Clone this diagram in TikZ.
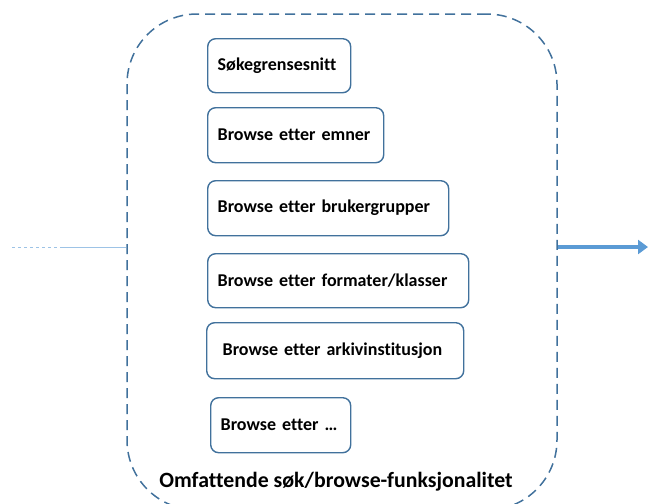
\documentclass[tikz,border=0pt]{standalone}
\usepackage{fontspec}
\setmainfont[Ligatures=NoCommon]{Carlito}
\usetikzlibrary{arrows.meta}
\definecolor{boxblue}{HTML}{41719C}
\definecolor{arrowblue}{HTML}{5B9BD5}
\definecolor{lineblue}{HTML}{9DC3E6}
\begin{document}
\begin{tikzpicture}[x=1pt,y=-1pt,
  outerbox/.style={draw=boxblue, line width=1.5pt, dash pattern=on 10pt off 6pt, rounded corners=70pt, minimum width=430pt, minimum height=496pt, inner sep=0pt},
  itembox/.style={draw=boxblue, line width=1.4pt, rounded corners=8pt, inner ysep=0pt, align=left, font=\bfseries\fontsize{18}{21}\selectfont, anchor=north west},
  title/.style={font=\bfseries\fontsize{21.8}{26}\selectfont, inner sep=0pt}
]
\clip (0,0) rectangle (649,504);
\useasboundingbox (0,0) rectangle (649,504);
\node[outerbox] (outer) at (342,262) {};
\node[itembox, inner xsep=10pt, text width=123pt, minimum height=54pt] (b1) at (207,38) {Søkegrensesnitt};
\node[itembox, inner xsep=10pt, text width=156pt, minimum height=55pt] (b2) at (207,107) {Browse etter emner};
\node[itembox, inner xsep=10pt, text width=221pt, minimum height=55pt] (b3) at (207,180) {Browse etter brukergrupper};
\node[itembox, inner xsep=10pt, text width=241pt, minimum height=54pt] (b4) at (207,253) {Browse etter formater/klasser};
\node[itembox, inner xsep=16pt, text width=225pt, minimum height=56pt] (b5) at (206,322) {Browse etter arkivinstitusjon};
\node[itembox, inner xsep=10pt, text width=120pt, minimum height=55pt] (b6) at (210,397) {Browse etter \dots};
\node[title] (t) at (336,482) {Omfattende søk/browse-funksjonalitet};
\coordinate (ls) at (12,247);
\coordinate (lm) at (63,247);
\coordinate (ae) at (648,247);
\draw[lineblue, line width=1pt, dash pattern=on 3pt off 3pt] (ls) -- (lm);
\draw[lineblue, line width=1pt] (lm) -- (outer.west |- lm);
\draw[arrowblue, line width=4.5pt, -{Triangle[length=10pt,width=14pt]}] (outer.east |- ae) -- (ae);
\end{tikzpicture}
\end{document}
